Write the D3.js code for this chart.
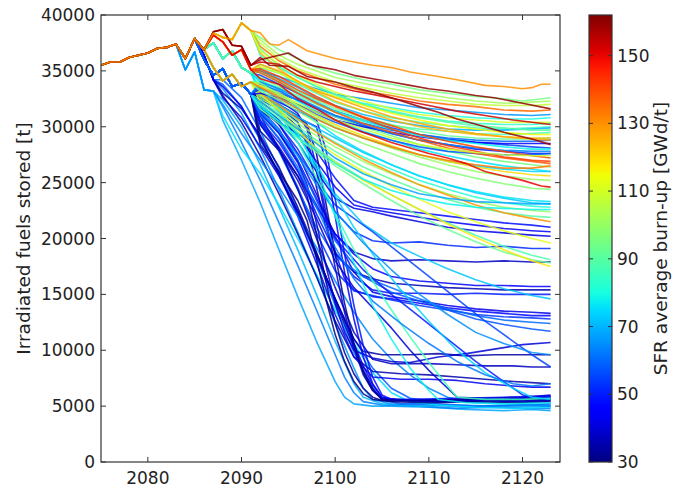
<!DOCTYPE html>
<html><head><meta charset="utf-8">
<script src="https://cdn.jsdelivr.net/npm/d3@7"></script>
<style>body{margin:0;background:#fff}text{font-family:"DejaVu Sans",sans-serif;fill:#222}</style>
</head><body><svg id="c" width="683" height="489"></svg>
<script>
// ---------- data (values in thousand tonnes, kt) ----------
const trunkYears = [2075,2076,2077,2078,2079,2080,2081,2082,2083];
const trunkKt    = [35.5,35.8,35.8,36.2,36.4,36.6,37.0,37.1,37.4];
// early branch shapes, starting in 2084, one value per year
const earlyTop  = [36.1,37.9,36.9,38.4,38.0,37.8,39.3,38.6];
const earlyDark = [36.1,37.9,36.9,38.5,38.7,37.3,37.2,35.5];
const earlyRed  = [36.1,37.9,36.9,38.2,37.6,36.4,36.9,35.1];
const earlyMid  = [36.1,37.9,36.9,37.5,36.1,36.8,35.3,34.8];
const earlyLow  = [36.1,37.9,36.9,35.3,34.1,34.7,33.6,34.0];
const earlyBlue = [36.1,37.9,36.0,34.6,35.2,33.6,33.9,32.9];
const earlyCyan = [35.1,36.7,33.3,33.2];
const earlyFast = [36.1,37.9,36.4,34.2];
// runs: [SFR burn-up GWd/t, early shape, [[year, kt], ...]]
const lowRuns = [
 [68,'cyan',[[2088,30.6],[2090,27.0],[2092,23.2],[2094,19.0],[2096,14.8],[2098,10.8],[2100,7.2],[2101,5.8],[2102,5.2],[2104,5.0],[2106,5.0],[2110,4.9],[2114,4.7],[2118,4.6],[2121,4.7],[2123,4.6]]],
 [63,'cyan',[[2088,31.8],[2090,28.6],[2092,25.2],[2094,21.4],[2096,17.6],[2098,13.6],[2100,9.6],[2101,7.6],[2102,6.2],[2103,5.4],[2105,5.1],[2109,5.0],[2113,4.8],[2117,4.9],[2121,4.8],[2123,4.8]]],
 [70,'cyan',[[2088,32.4],[2090,30.0],[2092,26.6],[2094,22.8],[2096,19.0],[2098,15.0],[2100,10.8],[2102,7.0],[2103,5.8],[2105,5.2],[2109,5.0],[2113,5.1],[2117,5.0],[2121,5.1],[2123,5.1]]],
 [66,'fast',[[2088,33.4],[2090,31.2],[2092,28.0],[2094,24.4],[2096,20.6],[2098,16.6],[2100,12.4],[2102,8.4],[2103,6.6],[2104,5.6],[2106,5.2],[2110,5.1],[2114,4.9],[2118,5.0],[2123,5.0]]],
 [60,'fast',[[2088,34.2],[2090,32.6],[2092,29.6],[2094,26.2],[2096,22.6],[2098,18.4],[2100,14.0],[2102,9.8],[2104,6.6],[2105,5.6],[2107,5.2],[2111,5.2],[2115,5.0],[2119,5.1],[2123,5.2]]],
 [75,'cyan',[[2088,31.0],[2090,28.0],[2092,25.8],[2094,23.0],[2096,20.0],[2098,16.8],[2100,13.6],[2102,10.6],[2104,8.0],[2106,6.2],[2108,5.4],[2111,5.1],[2115,4.9],[2119,4.8],[2123,4.9]]],
 [58,'fast',[[2088,33.8],[2090,31.8],[2092,28.8],[2094,25.6],[2096,22.2],[2098,18.4],[2100,14.6],[2102,11.0],[2104,8.4],[2106,6.6],[2108,5.7],[2111,5.4],[2116,5.5],[2120,5.4],[2123,5.5]]],
 [36,'fast',[[2088,33.0],[2090,31.6],[2092,29.2],[2094,26.4],[2096,22.8],[2098,18.8],[2100,14.4],[2102,10.2],[2103,8.2],[2104,6.6],[2105,5.6],[2108,5.5],[2113,5.5],[2118,5.6],[2123,5.8]]],
 [42,'fast',[[2088,32.6],[2090,30.8],[2092,28.2],[2094,25.6],[2096,22.4],[2098,18.6],[2100,14.6],[2102,10.6],[2103,8.6],[2104,6.9],[2105,5.8],[2107,5.5],[2112,5.4],[2118,5.6],[2123,5.9]]],
 [35,'fast',[[2088,32.8],[2090,30.4],[2092,27.4],[2094,24.0],[2096,20.4],[2098,16.6],[2100,12.6],[2102,9.4],[2104,8.1],[2107,7.9],[2110,7.8],[2113,7.6],[2116,7.4],[2119,7.2],[2121,7.1],[2123,7.0]]],
 [43,'fast',[[2088,33.6],[2090,31.8],[2092,29.0],[2094,25.8],[2096,22.0],[2098,17.8],[2100,13.2],[2102,9.4],[2104,7.6],[2107,7.4],[2110,7.4],[2113,7.3],[2116,7.0],[2119,6.8],[2121,6.7],[2123,6.7]]],
 [64,'cyan',[[2088,32.0],[2090,29.4],[2092,27.0],[2094,24.6],[2096,22.0],[2098,19.2],[2100,16.2],[2102,13.4],[2104,11.0],[2106,9.2],[2108,7.8],[2110,6.6],[2112,5.8],[2115,5.3],[2119,5.2],[2123,5.0]]]
];
const blueRuns = [
 [48,'blue',[[2092,32.6],[2093,32.2],[2094,31.5],[2096,30.0],[2098,27.8],[2100,25.4],[2102,23.4],[2104,22.8],[2106,22.6],[2109,22.3],[2112,22.0],[2115,21.7],[2118,21.4],[2121,21.2],[2123,21.0]]],
 [44,'blue',[[2092,32.3],[2094,31.0],[2096,29.2],[2098,26.9],[2100,24.6],[2102,23.0],[2104,22.6],[2106,22.3],[2109,21.9],[2112,21.5],[2115,21.2],[2118,20.9],[2121,20.7],[2123,20.6]]],
 [41,'blue',[[2092,32.0],[2094,30.6],[2096,28.6],[2098,26.0],[2100,23.6],[2102,22.7],[2104,22.4],[2106,22.0],[2109,21.5],[2112,21.0],[2115,20.7],[2118,20.5],[2121,20.3],[2123,20.2]]],
 [52,'blue',[[2092,31.8],[2094,30.2],[2096,28.0],[2098,25.1],[2100,22.4],[2102,20.6],[2104,19.8],[2106,19.6],[2109,19.7],[2112,19.4],[2115,19.2],[2118,19.3],[2121,19.1],[2123,19.1]]],
 [38,'blue',[[2092,30.5],[2094,28.2],[2096,25.6],[2098,22.8],[2100,20.4],[2102,18.8],[2104,18.2],[2106,18.0],[2109,18.1],[2112,18.0],[2115,17.9],[2118,18.0],[2121,17.9],[2123,17.9]]],
 [46,'blue',[[2092,31.4],[2094,29.5],[2096,27.0],[2098,23.6],[2100,20.4],[2102,18.6],[2104,17.3],[2106,16.6],[2109,16.2],[2112,16.0],[2115,15.8],[2118,15.8],[2121,15.7],[2123,15.7]]],
 [36,'blue',[[2092,32.6],[2094,31.8],[2096,30.4],[2097,28.4],[2098,24.6],[2099,21.0],[2100,18.6],[2102,17.0],[2104,16.4],[2106,16.0],[2109,15.8],[2112,15.6],[2115,15.5],[2118,15.4],[2121,15.4],[2123,15.4]]],
 [50,'blue',[[2092,31.0],[2094,28.9],[2096,26.1],[2098,22.2],[2100,18.8],[2102,16.6],[2104,15.4],[2106,15.1],[2109,15.1],[2112,15.0],[2115,15.1],[2118,15.0],[2121,15.0],[2123,15.0]]],
 [72,'blue',[[2092,32.0],[2094,30.4],[2096,28.6],[2098,26.2],[2100,24.0],[2103,21.3],[2106,19.6],[2109,18.4],[2112,17.3],[2115,16.3],[2118,15.5],[2121,14.9],[2123,14.6]]],
 [42,'blue',[[2092,31.8],[2094,30.2],[2096,27.6],[2098,24.0],[2100,20.2],[2102,17.0],[2104,15.2],[2106,14.8],[2109,14.4],[2112,14.0],[2115,13.7],[2118,13.5],[2121,13.4],[2123,13.3]]],
 [47,'blue',[[2092,33.0],[2094,32.4],[2096,31.2],[2097,29.8],[2098,26.4],[2099,22.4],[2100,18.8],[2101,16.4],[2102,15.4],[2104,14.8],[2106,14.6],[2109,14.2],[2112,13.8],[2115,13.5],[2118,13.3],[2121,13.1],[2123,13.1]]],
 [53,'blue',[[2092,30.4],[2094,28.0],[2096,24.6],[2098,20.5],[2100,17.1],[2102,15.3],[2104,14.9],[2106,14.5],[2109,14.0],[2112,13.6],[2115,13.2],[2118,13.0],[2121,12.9],[2123,12.8]]],
 [60,'blue',[[2092,30.2],[2094,27.8],[2096,24.4],[2098,21.0],[2100,18.4],[2103,16.6],[2106,15.6],[2109,14.6],[2112,13.7],[2115,13.1],[2118,12.7],[2121,12.5],[2123,12.4]]],
 [57,'blue',[[2092,31.6],[2094,29.8],[2096,27.0],[2098,23.4],[2100,19.8],[2103,16.6],[2106,15.2],[2109,14.4],[2112,13.6],[2115,12.8],[2118,12.3],[2121,11.9],[2123,11.7]]],
 [34,'blue',[[2092,29.0],[2094,25.8],[2096,22.4],[2098,18.6],[2100,14.6],[2102,11.0],[2103,9.9],[2105,9.6],[2108,9.6],[2111,9.7],[2114,9.5],[2117,9.6],[2120,9.6],[2123,9.6]]],
 [40,'blue',[[2092,31.2],[2094,29.4],[2096,26.8],[2097,24.8],[2098,21.4],[2099,17.6],[2100,14.2],[2101,11.6],[2102,10.0],[2104,9.3],[2106,9.0],[2108,8.9],[2111,9.4],[2114,9.7],[2117,10.1],[2120,10.5],[2123,10.7]]],
 [37,'blue',[[2092,31.0],[2094,28.0],[2096,24.4],[2098,20.0],[2100,15.6],[2102,11.6],[2104,9.2],[2106,8.8],[2110,8.8],[2113,8.7],[2116,8.6],[2119,8.6],[2121,8.5],[2123,8.5]]],
 [55,'blue',[[2092,31.2],[2094,29.6],[2096,27.6],[2098,25.2],[2100,23.0],[2102,21.8],[2104,20.6],[2107,18.6],[2110,16.6],[2113,14.6],[2116,12.6],[2119,10.8],[2121,9.6],[2123,8.5]]],
 [33,'blue',[[2092,29.6],[2094,27.9],[2096,25.6],[2097,23.8],[2098,20.4],[2099,16.2],[2100,12.4],[2101,9.8],[2102,7.9],[2103,6.6],[2104,5.8],[2105,5.5],[2110,5.5],[2115,5.6],[2120,5.6],[2123,5.7]]],
 [39,'blue',[[2092,31.4],[2094,30.4],[2096,29.4],[2097,28.8],[2098,26.0],[2099,21.8],[2100,17.4],[2101,13.4],[2102,10.2],[2103,7.8],[2104,6.4],[2105,5.7],[2110,5.4],[2115,5.5],[2120,5.4],[2123,5.5]]],
 [44,'blue',[[2092,32.4],[2094,31.6],[2096,30.8],[2098,30.0],[2099,26.8],[2100,22.0],[2101,17.0],[2102,12.8],[2103,9.4],[2104,7.0],[2105,5.8],[2107,5.5],[2112,5.6],[2117,5.5],[2123,5.6]]],
 [31,'blue',[[2092,28.4],[2094,26.0],[2096,23.4],[2097,21.6],[2098,18.2],[2099,14.6],[2100,11.4],[2101,9.0],[2102,7.2],[2103,6.1],[2104,5.6],[2106,5.4],[2110,5.3],[2115,5.4],[2120,5.3],[2123,5.4]]],
 [49,'blue',[[2092,33.0],[2094,32.2],[2096,31.4],[2098,30.6],[2099,28.0],[2100,23.6],[2101,18.6],[2102,14.0],[2103,10.4],[2104,7.6],[2105,6.0],[2106,5.6],[2108,5.6],[2113,5.7],[2118,5.8],[2123,5.9]]],
 [32,'blue',[[2092,32.8],[2094,32.0],[2096,31.0],[2097,30.2],[2098,27.6],[2099,23.2],[2100,18.6],[2101,14.2],[2102,10.6],[2103,8.0],[2104,6.4],[2105,5.6],[2108,5.5],[2114,5.6],[2119,5.5],[2123,5.6]]],
 [40,'blue',[[2092,30.2],[2094,28.0],[2096,25.2],[2098,21.8],[2100,18.0],[2102,15.6],[2104,13.8],[2106,12.0],[2108,10.0],[2110,8.2],[2112,6.6],[2113,5.8],[2116,5.7],[2120,5.8],[2123,6.0]]],
 [50,'blue',[[2092,30.6],[2094,28.6],[2096,26.0],[2098,23.0],[2100,20.0],[2103,17.2],[2106,15.0],[2109,13.0],[2112,11.0],[2115,9.0],[2118,7.2],[2120,6.0],[2122,5.7],[2123,5.8]]],
 [86,'mid',[[2092,33.2],[2094,31.2],[2096,28.6],[2098,25.4],[2100,22.2],[2102,19.0],[2104,16.2],[2106,13.6],[2108,11.2],[2110,8.9],[2112,6.8],[2113,5.8],[2116,5.6],[2120,5.6],[2123,5.7]]],
 [74,'mid',[[2092,33.0],[2094,31.4],[2096,29.2],[2098,26.6],[2100,23.8],[2102,21.0],[2104,18.6],[2107,15.4],[2110,12.6],[2113,10.0],[2116,8.0],[2119,6.6],[2121,5.8],[2123,5.6]]],
 [62,'blue',[[2092,31.0],[2094,29.0],[2096,26.4],[2098,22.8],[2100,19.2],[2102,16.4],[2104,14.4],[2107,12.4],[2110,10.6],[2113,9.0],[2116,7.8],[2119,7.0],[2121,6.8],[2123,7.0]]],
 [65,'blue',[[2092,31.4],[2094,29.6],[2096,27.4],[2098,24.8],[2100,22.4],[2103,19.6],[2106,17.2],[2109,15.0],[2112,13.2],[2115,11.6],[2118,10.6],[2121,9.8],[2123,9.6]]],
 [78,'mid',[[2092,33.4],[2094,31.8],[2096,29.4],[2098,26.2],[2100,22.0],[2102,17.8],[2104,14.0],[2106,11.0],[2108,8.4],[2110,6.4],[2111,5.6],[2114,5.3],[2118,5.2],[2123,5.3]]]
];
const midRuns = [
 [72,'low',[[2092,33.0],[2094,32.0],[2096,30.9],[2098,29.9],[2100,29.0],[2103,27.7],[2106,26.6],[2109,25.6],[2112,24.8],[2115,24.1],[2118,23.6],[2121,23.2],[2123,23.1]]],
 [82,'low',[[2092,32.8],[2094,31.7],[2096,30.6],[2098,29.6],[2100,28.6],[2103,27.3],[2106,26.2],[2109,25.2],[2112,24.4],[2115,23.7],[2118,23.2],[2121,22.9],[2123,22.8]]],
 [100,'low',[[2092,32.6],[2094,31.5],[2096,30.3],[2098,29.2],[2100,28.2],[2103,26.9],[2106,25.8],[2109,24.8],[2112,24.0],[2115,23.3],[2118,22.8],[2121,22.5],[2123,22.4]]],
 [90,'blue',[[2092,32.4],[2094,31.2],[2096,30.0],[2098,28.8],[2100,27.8],[2103,26.4],[2106,25.3],[2109,24.3],[2112,23.5],[2115,22.8],[2118,22.3],[2121,22.0],[2123,21.9]]],
 [130,'low',[[2092,33.0],[2094,31.9],[2096,30.7],[2098,29.5],[2100,28.5],[2103,27.1],[2106,25.9],[2109,24.8],[2112,23.9],[2115,23.0],[2118,22.3],[2121,21.8],[2123,21.5]]],
 [112,'low',[[2092,32.2],[2094,31.0],[2096,29.7],[2098,28.6],[2100,27.5],[2103,26.0],[2106,24.7],[2109,23.5],[2112,22.4],[2115,21.5],[2118,20.7],[2121,20.0],[2123,19.6]]],
 [88,'blue',[[2092,32.0],[2094,30.8],[2096,29.5],[2098,28.1],[2100,26.9],[2103,25.3],[2106,23.9],[2109,22.6],[2112,21.4],[2115,20.3],[2118,19.3],[2121,18.5],[2123,18.1]]],
 [93,'blue',[[2092,31.6],[2094,30.3],[2096,29.0],[2098,27.7],[2100,26.5],[2103,24.9],[2106,23.4],[2109,22.0],[2112,20.8],[2115,19.7],[2118,18.8],[2121,18.1],[2123,17.8]]],
 [118,'low',[[2092,32.9],[2094,31.5],[2096,29.8],[2098,27.9],[2100,26.8],[2103,25.2],[2106,23.9],[2109,22.6],[2112,21.3],[2115,20.1],[2118,19.0],[2121,18.0],[2123,17.5]]],
 [68,'blue',[[2092,32.2],[2094,31.0],[2096,29.8],[2098,28.5],[2100,27.2],[2103,25.8],[2106,24.8],[2109,24.0],[2112,23.6],[2115,23.3],[2118,23.2],[2121,23.1],[2123,23.1]]],
 [78,'blue',[[2092,31.8],[2094,30.5],[2096,29.1],[2098,27.9],[2100,26.7],[2103,25.3],[2106,24.3],[2109,23.6],[2112,23.1],[2115,22.8],[2118,22.7],[2121,22.6],[2123,22.6]]],
 [76,'mid',[[2092,34.0],[2094,33.0],[2096,31.7],[2098,30.4],[2100,29.2],[2103,27.8],[2106,26.6],[2109,25.6],[2112,24.8],[2115,24.2],[2118,23.7],[2121,23.4],[2123,23.3]]]
];
const highRuns = [
 [66,'mid',[[2092,35.0],[2094,34.5],[2096,33.9],[2098,33.4],[2100,32.9],[2103,32.5],[2106,32.1],[2109,31.7],[2112,31.5],[2115,31.3],[2118,31.1],[2121,31.0],[2123,31.1]]],
 [80,'mid',[[2092,35.3],[2094,34.8],[2096,34.0],[2098,33.2],[2100,32.7],[2103,32.1],[2106,31.7],[2109,31.3],[2112,31.0],[2115,30.8],[2118,30.7],[2121,30.7],[2123,30.8]]],
 [55,'mid',[[2092,34.6],[2094,33.8],[2096,33.0],[2098,32.2],[2100,31.4],[2103,30.6],[2106,29.9],[2109,29.3],[2112,28.9],[2115,28.6],[2118,28.4],[2121,28.2],[2123,28.1]]],
 [50,'blue',[[2092,33.4],[2094,33.0],[2096,32.4],[2098,31.6],[2100,30.9],[2103,30.1],[2106,29.4],[2109,28.8],[2112,28.4],[2115,28.0],[2118,27.8],[2121,27.6],[2123,27.6]]],
 [95,'mid',[[2092,34.4],[2094,33.6],[2096,32.6],[2098,31.7],[2100,30.9],[2103,30.0],[2106,29.2],[2109,28.4],[2112,27.8],[2115,27.3],[2118,26.9],[2121,26.6],[2123,26.4]]],
 [76,'mid',[[2092,34.2],[2094,33.3],[2096,32.3],[2098,31.4],[2100,30.6],[2103,29.6],[2106,28.8],[2109,28.0],[2112,27.4],[2115,26.9],[2118,26.5],[2121,26.2],[2123,26.0]]],
 [86,'mid',[[2092,35.6],[2094,34.9],[2096,33.8],[2098,33.0],[2100,32.2],[2103,31.4],[2106,30.8],[2109,30.4],[2112,30.1],[2115,29.9],[2118,29.8],[2121,29.9],[2123,30.0]]],
 [70,'mid',[[2092,35.1],[2094,34.3],[2096,33.5],[2098,32.6],[2100,31.9],[2103,31.1],[2106,30.5],[2109,30.1],[2112,29.8],[2115,29.7],[2118,29.7],[2121,29.8],[2123,29.9]]],
 [88,'low',[[2092,34.1],[2094,33.5],[2096,32.8],[2098,32.0],[2100,31.3],[2103,30.6],[2106,30.1],[2109,29.8],[2112,29.6],[2115,29.4],[2118,29.3],[2121,29.4],[2123,29.5]]],
 [60,'blue',[[2092,33.8],[2094,33.2],[2096,32.4],[2098,31.7],[2100,31.0],[2103,30.3],[2106,29.7],[2109,29.3],[2112,29.0],[2115,28.8],[2118,28.7],[2121,28.7],[2123,28.8]]],
 [45,'blue',[[2092,33.0],[2094,32.6],[2096,32.0],[2098,31.3],[2100,30.6],[2103,30.0],[2106,29.5],[2109,29.1],[2112,28.8],[2115,28.6],[2118,28.5],[2121,28.5],[2123,28.5]]],
 [78,'mid',[[2092,34.9],[2094,34.0],[2096,33.1],[2098,32.2],[2100,31.4],[2103,30.5],[2106,29.8],[2109,29.2],[2112,28.8],[2115,28.5],[2118,28.2],[2121,28.0],[2123,28.0]]],
 [63,'blue',[[2092,34.0],[2094,33.4],[2096,32.6],[2098,31.8],[2100,31.0],[2103,30.2],[2106,29.4],[2109,28.8],[2112,28.4],[2115,28.1],[2118,27.9],[2121,27.8],[2123,27.8]]],
 [92,'mid',[[2092,35.0],[2094,34.1],[2096,33.2],[2098,32.4],[2100,31.6],[2103,30.8],[2106,30.2],[2109,29.6],[2112,29.2],[2115,29.0],[2118,28.9],[2121,28.9],[2123,29.0]]],
 [58,'blue',[[2092,33.6],[2094,32.8],[2096,31.9],[2098,31.1],[2100,30.4],[2103,29.5],[2106,28.8],[2109,28.2],[2112,27.8],[2115,27.6],[2118,27.5],[2121,27.5],[2123,27.6]]],
 [74,'low',[[2092,33.4],[2094,32.6],[2096,31.6],[2098,30.7],[2100,29.9],[2103,29.0],[2106,28.2],[2109,27.5],[2112,26.9],[2115,26.5],[2118,26.2],[2121,26.0],[2123,26.0]]],
 [84,'top',[[2092,36.4],[2094,35.3],[2096,34.4],[2098,33.6],[2100,32.9],[2103,32.0],[2106,31.4],[2109,30.9],[2112,30.5],[2115,30.3],[2118,30.2],[2121,30.2],[2123,30.3]]],
 [95,'top',[[2092,38.0],[2094,36.9],[2096,36.1],[2098,35.3],[2100,34.8],[2103,34.2],[2106,33.8],[2109,33.3],[2112,33.0],[2115,32.7],[2118,32.5],[2120,32.3],[2123,32.6]]],
 [102,'top',[[2092,37.8],[2094,36.4],[2096,35.6],[2098,35.0],[2100,34.4],[2103,33.9],[2106,33.4],[2109,33.0],[2112,32.6],[2115,32.3],[2118,32.1],[2121,32.2],[2123,32.3]]],
 [107,'top',[[2092,37.5],[2094,36.1],[2096,35.2],[2098,34.6],[2100,34.0],[2103,33.5],[2106,33.0],[2109,32.6],[2112,32.3],[2115,32.0],[2118,31.9],[2121,31.9],[2123,32.0]]],
 [135,'top',[[2092,37.2],[2094,35.9],[2096,35.0],[2098,34.4],[2100,33.8],[2103,33.2],[2106,32.8],[2109,32.3],[2112,32.0],[2115,31.8],[2118,31.5],[2121,31.4],[2123,31.5]]],
 [90,'top',[[2092,37.0],[2094,35.4],[2096,34.4],[2098,33.6],[2100,32.9],[2103,32.0],[2106,31.3],[2109,30.8],[2112,30.4],[2115,30.1],[2118,29.9],[2121,29.7],[2123,29.7]]],
 [125,'top',[[2092,36.6],[2094,35.2],[2096,34.0],[2098,33.1],[2100,32.3],[2103,31.4],[2106,30.6],[2109,30.0],[2112,29.6],[2115,29.3],[2118,29.1],[2121,29.0],[2123,29.0]]],
 [110,'top',[[2092,36.8],[2094,35.6],[2096,34.6],[2098,33.8],[2100,33.1],[2103,32.3],[2106,31.6],[2109,31.1],[2112,30.8],[2115,30.6],[2118,30.4],[2121,30.4],[2123,30.4]]],
 [115,'red',[[2092,35.4],[2094,34.8],[2096,34.0],[2098,33.3],[2100,32.7],[2103,31.9],[2106,31.2],[2109,30.6],[2112,30.1],[2115,29.8],[2118,29.5],[2121,29.3],[2123,29.3]]],
 [127,'red',[[2092,35.6],[2094,35.0],[2096,34.1],[2098,33.2],[2100,32.6],[2103,31.7],[2106,30.9],[2109,30.3],[2112,29.8],[2115,29.4],[2118,29.1],[2121,28.9],[2123,28.8]]],
 [140,'red',[[2092,35.0],[2094,34.2],[2096,33.3],[2098,32.5],[2100,31.8],[2103,30.9],[2106,30.1],[2109,29.3],[2112,28.7],[2115,28.2],[2118,27.8],[2121,27.4],[2123,27.2]]],
 [138,'red',[[2092,34.8],[2094,34.0],[2096,33.0],[2098,32.1],[2100,31.3],[2103,30.3],[2106,29.5],[2109,28.8],[2112,28.1],[2115,27.6],[2118,27.2],[2121,26.9],[2123,26.7]]],
 [142,'red',[[2092,35.2],[2094,34.5],[2096,33.6],[2098,32.7],[2100,31.9],[2103,30.8],[2106,29.8],[2109,29.0],[2112,28.3],[2115,27.8],[2118,27.3],[2121,27.0],[2123,26.9]]],
 [108,'low',[[2092,33.7],[2094,33.0],[2096,32.1],[2098,31.3],[2100,30.6],[2103,29.8],[2106,29.0],[2109,28.4],[2112,28.0],[2115,27.7],[2118,27.5],[2121,27.4],[2123,27.4]]],
 [120,'low',[[2092,33.6],[2094,32.8],[2096,31.9],[2098,31.0],[2100,30.2],[2103,29.2],[2106,28.3],[2109,27.5],[2112,26.9],[2115,26.4],[2118,26.0],[2121,25.7],[2123,25.6]]],
 [100,'low',[[2092,33.9],[2094,32.9],[2096,31.9],[2098,30.9],[2100,30.0],[2103,29.0],[2106,28.1],[2109,27.3],[2112,26.6],[2115,26.0],[2118,25.6],[2121,25.3],[2123,25.2]]],
 [97,'low',[[2092,33.2],[2094,32.4],[2096,31.4],[2098,30.4],[2100,29.6],[2103,28.5],[2106,27.6],[2109,26.7],[2112,26.0],[2115,25.4],[2118,24.9],[2121,24.5],[2123,24.4]]],
 [133,'low',[[2092,33.5],[2094,32.6],[2096,31.6],[2098,30.7],[2100,29.9],[2103,29.0],[2106,28.2],[2109,27.5],[2112,27.0],[2115,26.6],[2118,26.3],[2121,26.3],[2123,26.5]]],
 [150,'red',[[2092,34.3],[2094,33.8],[2096,32.5],[2098,31.6],[2100,30.6],[2102,29.8],[2104,29.2],[2106,28.6],[2108,28.1],[2110,27.6],[2112,27.2],[2114,26.7],[2116,26.0],[2118,25.6],[2120,25.2],[2122,24.7],[2123,24.6]]],
 [153,'dark',[[2092,35.8],[2094,35.6],[2096,34.6],[2098,34.0],[2100,33.6],[2102,33.2],[2104,32.9],[2107,32.4],[2110,31.9],[2113,31.4],[2116,31.0],[2119,30.6],[2121,30.4],[2123,30.2]]],
 [159,'dark',[[2092,36.2],[2093,35.5],[2095,35.4],[2097,34.5],[2100,34.0],[2102,33.5],[2104,33.1],[2106,32.6],[2109,31.8],[2111,31.3],[2113,30.7],[2116,30.0],[2118,29.5],[2121,28.9],[2123,28.4]]],
 [160,'dark',[[2092,36.0],[2093,36.2],[2095,36.6],[2097,35.6],[2098,35.4],[2100,35.1],[2102,34.6],[2104,34.3],[2106,34.0],[2108,33.7],[2110,33.4],[2112,33.2],[2115,32.8],[2117,32.6],[2120,32.1],[2123,31.6]]],
 [130,'top',[[2092,38.4],[2093,37.4],[2094,37.3],[2095,37.8],[2097,36.8],[2100,36.1],[2102,35.8],[2104,35.5],[2106,35.3],[2108,34.9],[2111,34.5],[2113,34.2],[2116,33.7],[2118,33.6],[2120,33.4],[2121,33.5],[2122,33.8],[2123,33.8]]]
];
const xTicks = [2080,2090,2100,2110,2120];
const yTicks = [0,5000,10000,15000,20000,25000,30000,35000,40000];
const cbTicks = [30,50,70,90,110,130,150];
const yLabel = "Irradiated fuels stored [t]";
const cbLabel = "SFR average burn-up [GWd/t]";

// ---------- layout ----------
const svg = d3.select("#c");
const L = 101, R = 560, T = 15, B = 462;
const x = d3.scaleLinear().domain([2075, 2124]).range([L, R]);
const y = d3.scaleLinear().domain([0, 40000]).range([B, T]);
const cbMin = 30, cbMax = 162;

// matplotlib "jet"
const jr = d3.scaleLinear().domain([0,0.35,0.66,0.89,1]).range([0,0,1,1,0.5]).clamp(true);
const jg = d3.scaleLinear().domain([0,0.125,0.375,0.64,0.91,1]).range([0,0,1,1,0,0]).clamp(true);
const jb = d3.scaleLinear().domain([0,0.11,0.34,0.65,1]).range([0.5,1,1,0,0]).clamp(true);
const tScale = d3.scaleLinear().domain([cbMin, cbMax]).range([0, 1]).clamp(true);
const jet = v => { const t = tScale(v); return d3.rgb(jr(t)*255, jg(t)*255, jb(t)*255).toString(); };

const earlyShapes = {top: earlyTop, dark: earlyDark, red: earlyRed, mid: earlyMid, low: earlyLow, blue: earlyBlue, cyan: earlyCyan, fast: earlyFast};
const trunk = trunkYears.map((yr, i) => [yr, trunkKt[i]]);
function fullSeries(run) {
  const early = earlyShapes[run[1]].map((v, i) => [2084 + i, v]);
  return trunk.concat(early, run[2]).map(d => [d[0], d[1] * 1000]);
}
const allRuns = [].concat(lowRuns, blueRuns, midRuns, highRuns);
const line = d3.line().x(d => x(d[0])).y(d => y(d[1]));

svg.append("defs").append("clipPath").attr("id", "clip")
  .append("rect").attr("x", L).attr("y", T).attr("width", R - L).attr("height", B - T);

svg.append("g").attr("clip-path", "url(#clip)")
  .selectAll("path").data(allRuns).join("path")
  .attr("d", r => line(fullSeries(r)))
  .attr("fill", "none").attr("stroke", r => jet(r[0]))
  .attr("stroke-width", 1.6).attr("stroke-opacity", 0.85).attr("stroke-linejoin", "round");

// frame and axes
const frame = "#333";
svg.append("rect").attr("x", L).attr("y", T).attr("width", R - L).attr("height", B - T)
  .attr("fill", "none").attr("stroke", frame).attr("stroke-width", 1.2);

const ax = svg.append("g");
xTicks.forEach(t => {
  ax.append("line").attr("x1", x(t)).attr("x2", x(t)).attr("y1", B).attr("y2", B - 5).attr("stroke", frame);
  ax.append("line").attr("x1", x(t)).attr("x2", x(t)).attr("y1", T).attr("y2", T + 5).attr("stroke", frame);
  ax.append("text").attr("x", x(t)).attr("y", 484).attr("text-anchor", "middle").attr("font-size", 17).text(t);
});
yTicks.forEach(t => {
  ax.append("line").attr("x1", L).attr("x2", L + 5).attr("y1", y(t)).attr("y2", y(t)).attr("stroke", frame);
  ax.append("line").attr("x1", R).attr("x2", R - 5).attr("y1", y(t)).attr("y2", y(t)).attr("stroke", frame);
  ax.append("text").attr("x", L - 6).attr("y", y(t)).attr("dy", "0.36em").attr("text-anchor", "end").attr("font-size", 17).text(t);
});
svg.append("text").attr("transform", `translate(30,${(T + B) / 2}) rotate(-90)`)
  .attr("text-anchor", "middle").attr("font-size", 18.5).text(yLabel);

// colorbar
const cbL = 589, cbW = 23;
const cy = d3.scaleLinear().domain([cbMin, cbMax]).range([B, T]);
const grad = svg.select("defs").append("linearGradient").attr("id", "jetg")
  .attr("x1", 0).attr("y1", 1).attr("x2", 0).attr("y2", 0);
d3.range(0, 1.0001, 0.02).forEach(f => {
  grad.append("stop").attr("offset", f).attr("stop-color", jet(cbMin + f * (cbMax - cbMin)));
});
svg.append("rect").attr("x", cbL).attr("y", T).attr("width", cbW).attr("height", B - T)
  .attr("fill", "url(#jetg)").attr("stroke", frame).attr("stroke-width", 1.2);
cbTicks.forEach(t => {
  svg.append("line").attr("x1", cbL + cbW).attr("x2", cbL + cbW - 4).attr("y1", cy(t)).attr("y2", cy(t)).attr("stroke", frame);
  svg.append("line").attr("x1", cbL).attr("x2", cbL + 4).attr("y1", cy(t)).attr("y2", cy(t)).attr("stroke", frame);
  svg.append("text").attr("x", cbL + cbW + 5).attr("y", cy(t)).attr("dy", "0.36em").attr("font-size", 17).text(t);
});
svg.append("text").attr("transform", `translate(667,${(T + B) / 2}) rotate(-90)`)
  .attr("text-anchor", "middle").attr("font-size", 18.5).text(cbLabel);
</script></body></html>
